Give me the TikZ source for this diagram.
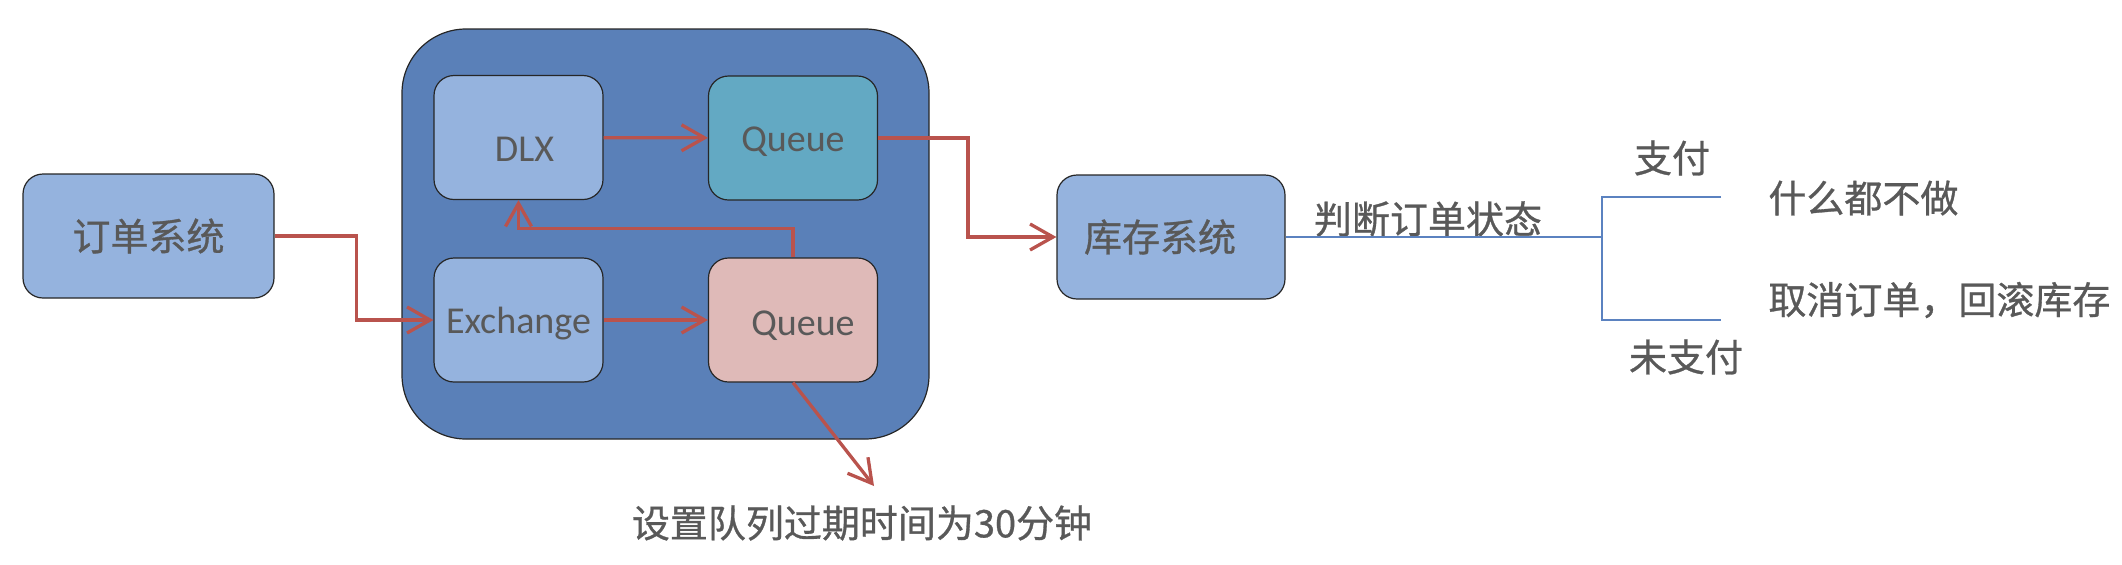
\documentclass[tikz,border=0pt]{standalone}
\usepackage{fontspec}
\setmainfont{Carlito}
\newfontfamily\cjk[FakeBold=0.8]{Noto Sans CJK SC}
\usepackage{tikz}
\usetikzlibrary{arrows.meta,%
                positioning}
\definecolor{brokerblue}{HTML}{5A80B8}
\definecolor{lightblue}{HTML}{95B3DE}
\definecolor{queueteal}{HTML}{63A9C3}
\definecolor{queuepink}{HTML}{DFBAB8}
\definecolor{arrowred}{HTML}{B9534D}
\definecolor{lineblue}{HTML}{5B82C0}
\definecolor{txtgray}{HTML}{595959}

\begin{document}
\begin{tikzpicture}[x=0.5pt,y=-0.5pt,
  every node/.style={text=txtgray,font=\fontsize{19pt}{23pt}\selectfont},
  box/.style={draw=black!85,line width=0.6pt,rounded corners=10pt,fill=lightblue,
              minimum width=84.5pt,minimum height=62pt,inner sep=0pt},
  flow/.style={draw=arrowred,line width=1.65pt,-{Straight Barb[length=11.5pt,width=13pt]}},
  tree/.style={draw=lineblue,line width=1.4pt}]
\useasboundingbox (0,0) rectangle (2122,564);
\node[box,fill=brokerblue,rounded corners=32pt,minimum width=263.5pt,minimum height=205pt] (broker) at (665.5,234) {};
\node[box,minimum width=125.5pt] (order) at (148.5,236) {\cjk 订单系统};
\node[box,label={[xshift=3pt,yshift=-6pt]center:DLX}] (dlx) at (518.5,137.5) {};
\node[box,fill=queueteal,label={[yshift=-2pt]center:Queue}] (qtop) at (793,138) {};
\node[box,label={[yshift=-2pt]center:Exchange}] (exch) at (518.5,320) {};
\node[box,fill=queuepink,label={[xshift=5pt,yshift=-3pt]center:Queue}] (qdead) at (793,320) {};
\node[box,minimum width=114pt,label={[xshift=-5.5pt]center:{\cjk 库存系统}}] (stock) at (1171,237) {};
\node[inner sep=0pt] (ttl) at (862,523) {\cjk 设置队列过期时间为30分钟};
\node[inner sep=0pt] (check) at (1428,219) {\cjk 判断订单状态};
\node[inner sep=0pt] (paytxt) at (1672,158) {\cjk 支付};
\node[inner sep=0pt] (unpaytxt) at (1686,357) {\cjk 未支付};
\node[inner sep=0pt,anchor=west] (nothing) at (1768,198) {\cjk 什么都不做};
\node[inner sep=0pt,anchor=west] (cancel) at (1768,300) {\cjk 取消订单，回滚库存};
\coordinate (ttlend) at (874,486);
\coordinate (fork) at (1602,237);
\coordinate (paid) at (1721,197);
\coordinate (unpaid) at (1721,320);
\draw[flow] (order.east) -- ++(82,0) |- (exch.west);
\draw[flow] (dlx) -- (qtop);
\draw[flow] (exch) -- (qdead);
\draw[flow] (qdead.north) -- ++(0,-29) -| (dlx.south);
\draw[flow] (qtop.east) -- ++(90,0) |- (stock.west);
\draw[flow] (qdead.south) -- (ttlend);
\draw[tree] (stock.east) -- (fork);
\draw[tree] (paid) -| (fork) |- (unpaid);
\end{tikzpicture}
\end{document}
